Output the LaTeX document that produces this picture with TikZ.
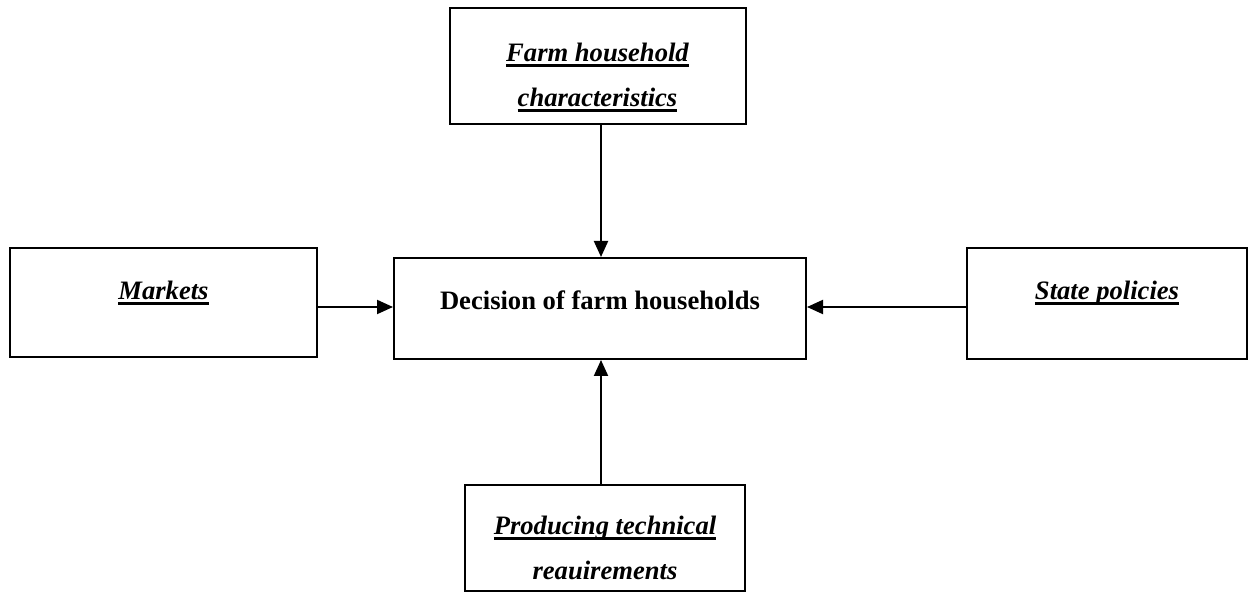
\documentclass[tikz,border=0pt]{standalone}
\usepackage{fontspec}
\setmainfont{Liberation Serif}
\usetikzlibrary{arrows.meta}
\newsavebox\myulbox
\newcommand\thickul[1]{\sbox\myulbox{#1}\rlap{\usebox\myulbox}\rule[-2.3pt]{\wd\myulbox}{1.5pt}}
\tikzset{
  box/.style={draw, line width=1pt, rectangle, inner sep=0pt},
  lbl/.style={anchor=base, inner sep=0pt, font=\fontsize{13.3}{16}\selectfont\bfseries\itshape},
  mainlbl/.style={anchor=base, inner sep=0pt, font=\fontsize{13.3}{16}\selectfont\bfseries},
  arr/.style={line width=1pt, -{Triangle[length=8pt,width=7pt]}}
}
\begin{document}
\begin{tikzpicture}[x=0.5pt,y=-0.5pt]
\useasboundingbox (0,0) rectangle (1253,592);
% boxes
\node[box, minimum width=148pt, minimum height=58pt] (hh) at (598,66) {};
\node[box, minimum width=153.5pt, minimum height=54.5pt] (mk) at (163.5,302.5) {};
\node[box, minimum width=206pt, minimum height=50.5pt] (dec) at (600,308.5) {};
\node[box, minimum width=140pt, minimum height=55.5pt] (st) at (1107,303.5) {};
\node[box, minimum width=140pt, minimum height=53pt] (tech) at (605,538) {};
% texts
\node[lbl] (hh1) at (597.5,62) {\thickul{Farm household}};
\node[lbl] (hh2) at (597.5,107) {\thickul{characteristics}};
\node[lbl] (mkt) at (163.5,300) {\thickul{Markets}};
\node[mainlbl] (dect) at (600,310) {Decision of farm households};
\node[lbl] (stt) at (1107,300) {\thickul{State policies}};
\node[lbl] (te1) at (605,535) {\thickul{Producing technical}};
\node[lbl] (te2) at (605,580) {reauirements};
% connectors
\coordinate (vx) at (601,0);
\coordinate (hy) at (0,307);
\draw[arr] (hh.south -| vx) -- (dec.north -| vx);
\draw[arr] (tech.north -| vx) -- (dec.south -| vx);
\draw[arr] (mk.east |- hy) -- (dec.west |- hy);
\draw[arr] (st.west |- hy) -- (dec.east |- hy);
\end{tikzpicture}
\end{document}
